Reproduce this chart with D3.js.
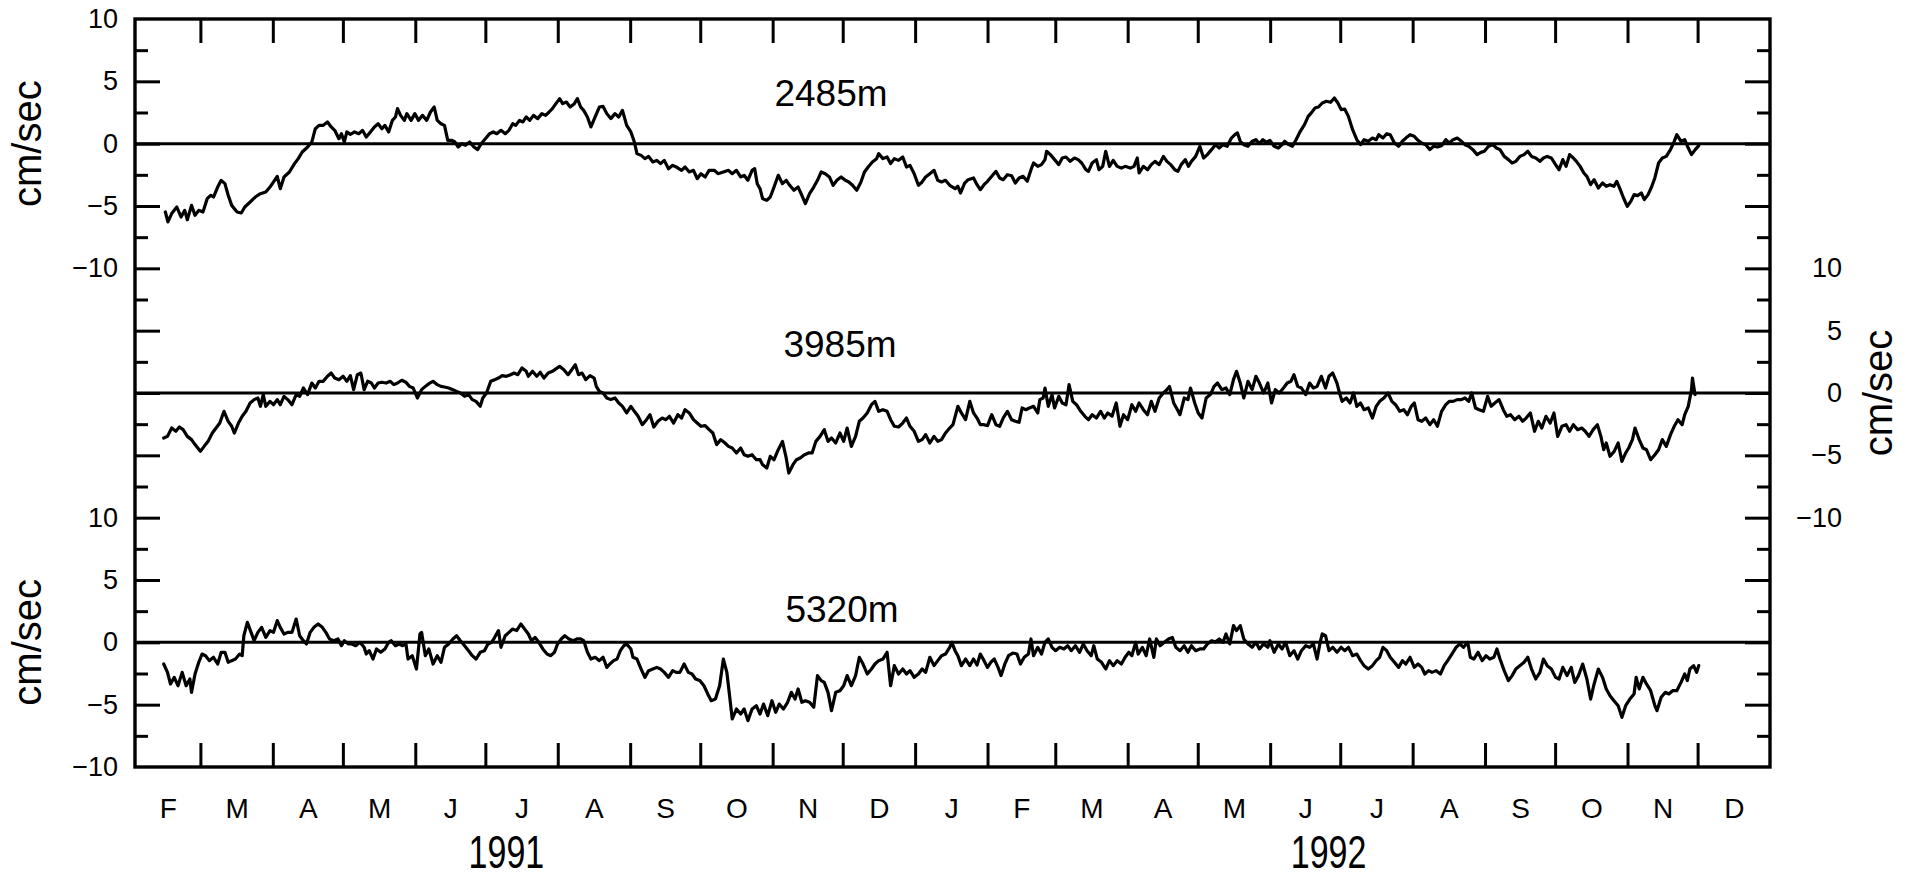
<!DOCTYPE html>
<html><head><meta charset="utf-8">
<script src="https://cdn.jsdelivr.net/npm/d3@7"></script>
<style>
html,body{margin:0;padding:0;background:#fff;}
svg text{font-family:"Liberation Sans",Arial,Helvetica,sans-serif;fill:#000;}
</style></head><body>
<svg id="chart" width="1906" height="877"></svg>
<script>
// ---------- data (day offset from 1 Feb 1991, velocity cm/sec) ----------
const monthLabels = ["F","M","A","M","J","J","A","S","O","N","D","J","F","M","A","M","J","J","A","S","O","N","D"];
const yearLabels = ["1991","1992"];
const yearLabelDates = ["1991-07-10","1992-06-26"];
const yTickValues = [10,5,0,-5,-10];
const yTickLabels = ["10","5","0","\u22125","\u221210"];
const depthLabels = ["2485m","3985m","5320m"];

const s2485 = [[13.0,-5.48],[14.1,-6.28],[15.7,-5.61],[17.9,-5.08],[19.7,-5.88],[21.3,-5.35],[22.4,-6.10],[24.2,-4.95],[25.7,-5.75],[27.3,-5.35],[29.1,-5.48],[30.9,-4.41],[32.5,-4.14],[33.6,-4.28],[35.4,-3.48],[36.9,-2.94],[38.5,-3.21],[39.9,-4.14],[41.4,-4.95],[43.7,-5.48],[45.5,-5.56],[47.0,-5.08],[49.3,-4.68],[51.5,-4.28],[53.7,-4.01],[56.0,-3.88],[57.8,-3.48],[59.3,-3.07],[60.9,-2.62],[62.2,-3.61],[63.8,-2.67],[66.1,-2.27],[68.3,-1.60],[69.9,-1.20],[71.6,-0.67],[73.9,-0.27],[75.7,0.13],[77.2,1.20],[78.8,1.47],[80.6,1.47],[82.4,1.74],[84.0,1.34],[85.5,1.07],[87.3,0.40],[88.4,0.80],[89.6,0.13],[90.7,0.94],[92.2,0.75],[94.0,0.94],[95.8,0.80],[97.4,1.07],[99.0,0.53],[100.8,0.94],[102.5,1.34],[104.1,1.60],[105.7,1.20],[107.0,1.47],[108.6,0.94],[110.2,1.87],[111.5,2.14],[112.4,2.81],[113.7,2.27],[115.3,1.87],[116.4,2.41],[118.2,1.87],[119.8,2.41],[121.4,1.87],[123.1,2.27],[124.9,1.87],[126.5,2.54],[128.1,2.94],[129.4,1.87],[131.0,1.60],[132.5,1.47],[133.9,0.27],[135.5,0.27],[137.0,0.13],[138.4,-0.27],[139.9,0],[141.5,-0.13],[143.3,0.13],[145.1,-0.27],[146.7,-0.48],[148.2,0],[150.0,0.40],[151.8,0.80],[153.4,0.94],[154.9,0.80],[156.7,1.07],[158.5,0.80],[160.1,1.07],[161.7,1.60],[163.0,1.47],[164.6,1.87],[166.1,1.74],[167.5,2.14],[169.0,1.87],[170.6,2.27],[172.4,2.01],[174.2,2.41],[175.8,2.27],[177.3,2.54],[178.7,2.81],[180.2,3.21],[181.8,3.61],[183.1,3.21],[184.7,3.34],[186.3,2.94],[188.1,3.21],[189.4,3.61],[190.8,2.94],[192.1,2.67],[193.7,2.14],[195.2,1.34],[197.0,2.14],[198.8,2.94],[200.4,2.99],[202.0,2.41],[203.7,2.01],[205.5,2.41],[207.1,2.14],[208.7,2.67],[210.5,1.47],[212.3,0.94],[213.8,0.13],[214.9,-0.80],[216.7,-0.94],[218.3,-1.20],[219.9,-1.02],[221.7,-1.47],[223.4,-1.34],[225.0,-1.60],[226.6,-1.34],[228.4,-2.01],[230.2,-1.74],[231.7,-1.87],[234.0,-2.14],[235.5,-1.87],[237.3,-2.27],[239.1,-2.14],[240.7,-2.81],[242.3,-2.41],[244.1,-2.67],[245.8,-2.14],[248.1,-2.14],[249.6,-2.41],[251.9,-2.27],[254.1,-2.14],[255.7,-2.41],[257.5,-2.14],[259.3,-2.67],[260.8,-2.54],[262.4,-2.94],[264.2,-2.14],[265.3,-2.01],[266.4,-3.21],[267.6,-3.61],[268.7,-4.41],[270.5,-4.55],[272.0,-4.28],[273.6,-3.48],[275.4,-2.54],[277.2,-3.21],[278.8,-2.94],[280.3,-3.34],[282.1,-3.74],[283.9,-3.48],[285.5,-4.14],[287.0,-4.81],[288.8,-4.01],[290.6,-3.48],[292.2,-2.94],[293.8,-2.27],[295.5,-2.41],[297.3,-2.67],[298.9,-3.34],[300.5,-2.94],[302.3,-2.67],[304.1,-2.94],[305.6,-3.07],[307.2,-3.34],[309.0,-3.74],[310.8,-3.07],[312.3,-2.27],[313.9,-1.87],[315.7,-1.47],[317.5,-1.20],[318.4,-0.80],[320.2,-1.20],[322.0,-1.07],[323.5,-1.60],[325.1,-1.20],[326.9,-1.34],[328.7,-1.07],[330.3,-1.87],[331.8,-1.74],[333.6,-2.41],[335.4,-3.34],[337.0,-3.07],[338.5,-2.67],[340.3,-2.41],[342.1,-2.14],[343.7,-2.94],[345.3,-3.07],[347.0,-2.94],[348.8,-3.34],[351.1,-3.61],
[352.3,-3.42],[353.4,-3.96],[355.2,-3.16],[356.7,-2.89],[359.0,-2.75],[360.5,-3.29],[361.9,-3.69],[363.5,-3.29],[365.0,-3.02],[366.8,-2.62],[368.6,-2.22],[370.2,-2.75],[371.7,-2.89],[373.5,-2.49],[375.3,-2.57],[376.9,-3.16],[378.5,-2.75],[380.2,-2.62],[382.0,-3.02],[383.6,-2.09],[384.7,-1.55],[386.5,-1.82],[388.1,-1.68],[389.6,-1.28],[390.3,-0.61],[391.9,-0.88],[393.7,-1.28],[395.5,-1.68],[397.0,-1.15],[398.6,-1.07],[400.4,-1.42],[402.2,-1.15],[403.8,-1.28],[405.3,-1.55],[407.1,-2.09],[408.2,-2.22],[409.8,-1.55],[411.6,-1.28],[412.7,-2.09],[414.3,-1.82],[415.6,-0.61],[417.2,-1.82],[418.8,-1.34],[420.5,-1.82],[422.3,-1.96],[423.9,-1.82],[426.1,-1.96],[427.7,-1.82],[429.1,-1.15],[429.9,-2.35],[431.7,-1.82],[433.5,-2.09],[435.1,-1.68],[436.7,-1.42],[438.5,-1.68],[440.3,-1.02],[441.8,-1.42],[443.4,-1.68],[445.2,-2.09],[446.5,-2.22],[447.9,-1.68],[449.7,-1.28],[451.0,-1.82],[452.3,-1.42],[454.1,-1.02],[455.9,-0.21],[457.5,-1.15],[459.1,-0.88],[460.9,-0.48],[462.6,-0.08],[464.2,-0.35],[465.8,-0.08],[467.6,-0.21],[469.4,0.45],[470.9,0.72],[472.0,0.86],[473.2,0.19],[474.7,-0.08],[476.5,-0.21],[478.3,0.19],[479.9,0.32],[481.4,0],[482.8,0.32],[484.4,0.11],[485.9,0.27],[487.7,-0.21],[489.5,-0.35],[491.1,-0.08],[492.2,0.19],[494.0,-0.08],[495.5,-0.21],[497.1,0.32],[498.9,0.99],[500.7,1.52],[502.3,2.19],[503.8,2.51],[505.2,2.86],[506.7,2.94],[508.3,3.26],[510.1,3.40],[511.9,3.32],[513.5,3.66],[515.0,3.26],[516.4,2.73],[517.9,2.78],[519.5,2.19],[521.3,1.12],[523.1,0.32],[524.7,-0.08],[526.2,0.32],[528.0,0.19],[529.8,0.45],[531.4,0.32],[532.5,0.72],[534.3,0.45],[535.9,0.80],[537.4,0.72],[539.2,0.05],[541.0,-0.21],[542.6,0.19],[544.1,0.45],[545.9,0.72],[547.7,0.59],[549.3,0.27],[550.9,0.05],[552.6,-0.08],[554.4,-0.48],[556.0,-0.21],[557.6,-0.27],[559.4,-0.16],[561.2,0.32],[562.7,0.05],[564.3,0.32],[566.1,0.45],[567.9,0.19],[569.4,-0.08],[571.0,-0.21],[572.8,-0.48],[574.6,-0.88],[576.2,-0.70],[577.7,-0.61],[579.5,-0.21],[581.3,-0.08],[582.9,-0.35],[584.4,-0.48],[586.2,-1.02],[588.0,-1.28],[589.6,-1.55],[591.2,-1.42],[592.9,-1.02],[594.7,-0.88],[596.3,-0.61],[597.9,-1.02],[599.7,-1.15],[601.5,-1.42],[603.0,-1.15],[604.6,-1.02],[606.4,-1.15],[608.2,-1.68],[609.7,-2.09],[611.3,-1.28],[612.7,-1.82],[614.2,-0.88],[615.8,-1.15],[617.1,-1.42],[618.7,-1.82],[620.3,-2.35],[621.6,-2.62],[623.2,-3.29],[624.7,-2.89],[626.5,-3.56],[628.3,-3.16],[629.9,-3.42],[631.5,-3.29],[633.2,-3.42],[634.4,-3.02],[635.9,-3.69],[637.3,-4.36],[638.9,-5.03],[640.4,-4.63],[641.8,-4.09],[643.3,-4.17],[644.9,-3.96],[646.2,-4.49],[647.8,-4.09],[649.4,-3.42],[650.7,-2.75],[652.3,-1.55],[653.9,-1.15],[655.6,-1.02],[657.4,-0.48],[659.0,0.19],[660.1,0.72],[661.9,0.19],[663.5,0.32],[665.0,-0.35],[666.4,-0.88],[668.0,-0.48],[669.5,-0.16]];

const s3985 = [[12.3,-3.61],[13.9,-3.48],[15.7,-2.81],[17.5,-3.07],[19.0,-2.73],[20.6,-2.94],[22.4,-3.48],[24.2,-3.74],[25.7,-4.14],[28.0,-4.68],[29.6,-4.28],[31.3,-3.88],[33.1,-3.21],[34.7,-2.81],[36.3,-2.41],[38.1,-1.47],[39.9,-2.27],[41.4,-2.67],[42.5,-3.21],[44.3,-2.41],[45.9,-1.87],[47.5,-1.47],[49.3,-0.80],[51.0,-0.53],[52.6,-0.40],[53.7,-1.07],[54.9,-0.13],[56.0,-1.07],[57.8,-0.67],[59.3,-0.94],[60.9,-0.53],[62.2,-0.94],[63.8,-0.27],[65.4,-0.53],[67.2,-0.94],[69.0,-0.13],[70.5,-0.27],[72.1,0.40],[73.9,-0.13],[75.7,0.80],[77.2,0.40],[78.8,0.94],[80.6,0.94],[82.4,1.34],[84.0,1.60],[85.5,1.20],[87.3,1.07],[89.1,1.34],[90.7,0.94],[92.2,1.39],[93.6,0.27],[95.2,1.47],[96.7,1.60],[98.1,0.27],[99.6,0.94],[101.2,0.80],[102.5,0.40],[104.1,0.80],[105.7,0.86],[107.5,0.80],[109.3,0.94],[110.8,0.67],[112.4,0.80],[114.2,1.02],[116.0,0.86],[117.5,0.53],[119.1,0.40],[120.9,-0.40],[122.7,0.27],[124.3,0.53],[125.8,0.75],[127.6,0.94],[129.4,0.67],[131.0,0.53],[132.5,0.48],[134.3,0.40],[136.1,0.27],[137.7,0.13],[139.3,0],[141.1,-0.27],[142.8,-0.13],[144.4,-0.53],[146.0,-0.67],[147.8,-1.07],[148.9,-0.40],[150.5,0],[152.3,0.94],[154.0,1.07],[155.6,1.20],[157.2,1.39],[159.0,1.34],[160.8,1.47],[162.3,1.60],[163.9,1.47],[165.7,2.01],[167.5,1.74],[168.4,1.34],[170.2,1.74],[172.0,1.34],[173.5,1.66],[175.1,1.20],[176.9,1.60],[178.7,1.74],[180.2,1.93],[181.8,2.14],[183.6,1.87],[185.4,1.47],[187.0,1.87],[188.5,2.27],[189.9,1.47],[191.4,1.60],[193.0,1.07],[194.8,1.39],[196.6,1.20],[197.5,0.53],[198.8,0.13],[200.4,0],[202.0,-0.40],[203.7,-0.53],[205.5,-0.40],[207.1,-0.80],[208.7,-1.07],[210.5,-1.60],[212.3,-1.07],[213.8,-1.47],[215.4,-1.87],[217.2,-2.54],[219.0,-2.14],[220.5,-1.74],[222.1,-2.73],[223.9,-2.27],[225.7,-2.01],[227.3,-2.14],[228.8,-1.87],[230.6,-2.41],[232.4,-1.74],[234.0,-2.01],[235.5,-1.34],[237.3,-1.60],[239.1,-2.14],[240.7,-2.41],[242.3,-2.67],[244.1,-2.62],[245.8,-2.94],[247.4,-3.21],[249.0,-4.14],[250.8,-3.74],[252.6,-4.01],[254.1,-4.28],[255.7,-4.41],[257.5,-4.81],[259.3,-4.41],[260.8,-4.95],[262.4,-5.08],[264.2,-4.95],[266.0,-5.35],[267.6,-5.35],[268.7,-5.75],[270.5,-6.02],[272.0,-5.08],[273.6,-5.35],[275.4,-4.55],[277.2,-3.88],[278.8,-5.21],[279.9,-6.42],[281.7,-5.75],[283.2,-5.35],[284.8,-5.21],[286.6,-4.95],[288.4,-4.81],[289.9,-4.81],[291.5,-3.88],[293.3,-3.48],[295.1,-2.94],[296.7,-3.88],[298.2,-3.61],[300.0,-4.01],[301.8,-3.21],[303.4,-3.88],[304.9,-2.81],[306.7,-4.28],[308.5,-3.48],[310.1,-2.27],[311.7,-2.01],[313.5,-1.60],[315.3,-0.94],[316.8,-0.67],[318.4,-1.47],[320.2,-1.34],[322.0,-1.47],[323.5,-2.14],[325.1,-2.67],[326.9,-2.73],[328.7,-2.41],[330.3,-2.01],[331.8,-2.67],[333.6,-3.07],[335.4,-3.88],[337.0,-3.74],[338.5,-3.34],[340.3,-4.01],[342.1,-3.48],[343.7,-3.88],[345.3,-3.74],[347.0,-3.21],[348.8,-2.81],[350.2,-2.54],
[352.3,-1.07],[353.8,-1.60],[355.6,-2.14],[357.4,-0.67],[359.0,-1.60],[360.5,-2.01],[361.9,-2.54],[363.5,-2.54],[365.0,-2.62],[366.8,-1.74],[368.6,-2.54],[370.2,-2.67],[371.7,-2.01],[373.5,-1.47],[375.3,-2.14],[376.9,-2.27],[378.5,-2.35],[379.8,-1.20],[381.4,-1.34],[382.9,-1.20],[384.7,-1.07],[386.5,-1.60],[387.4,-0.53],[388.8,-0.40],[389.6,0.40],[391.0,-1.07],[392.6,-0.13],[393.7,-1.20],[395.5,-0.27],[397.0,-0.80],[398.6,-0.94],[399.9,0.67],[401.5,-0.67],[403.1,-0.94],[404.9,-1.47],[406.7,-1.87],[408.2,-2.14],[409.8,-1.74],[411.6,-2.01],[413.4,-1.47],[415.0,-2.01],[416.5,-1.60],[418.3,-1.87],[420.1,-0.80],[421.7,-2.67],[423.2,-1.74],[425.0,-2.14],[426.8,-0.94],[428.4,-1.47],[429.9,-0.80],[431.7,-1.34],[433.5,-1.74],[435.1,-0.67],[436.7,-1.47],[438.5,-0.40],[440.3,0],[441.8,0.27],[442.9,0.53],[444.7,-0.80],[446.3,-1.34],[447.4,-1.74],[449.2,-0.40],[450.8,-0.53],[451.9,0.40],[453.7,-0.80],[455.2,-1.60],[456.8,-2.01],[458.6,-0.40],[460.4,-0.13],[462.0,0.53],[463.5,0.80],[465.3,0.27],[467.1,0.40],[468.7,-0.13],[470.3,1.07],[471.6,1.74],[473.2,0.80],[474.7,-0.40],[476.5,0.94],[478.3,0.27],[479.9,1.34],[481.4,0.80],[483.2,0],[485.0,0.80],[486.6,-0.80],[488.2,0.27],[489.9,0],[491.7,0.40],[493.3,0.80],[494.9,0.94],[496.2,1.47],[497.8,0.53],[499.4,0.40],[501.2,-0.13],[502.9,0.80],[504.5,0.40],[506.1,0.53],[507.9,1.34],[509.7,0.40],[511.2,1.34],[512.8,1.60],[514.6,0.80],[515.7,0],[516.8,-0.67],[518.6,-0.40],[520.2,-0.80],[521.7,0],[523.1,-1.07],[524.7,-0.80],[526.2,-1.34],[528.0,-1.20],[529.8,-2.01],[531.4,-1.07],[532.9,-0.67],[534.7,-0.40],[536.5,0],[538.1,-0.67],[539.7,-0.94],[541.5,-1.47],[543.2,-1.34],[544.8,-1.74],[546.4,-1.07],[547.7,-0.80],[549.3,-2.14],[550.9,-2.27],[552.6,-2.01],[554.4,-2.54],[556.0,-2.14],[557.6,-2.67],[559.4,-1.47],[561.2,-0.94],[562.7,-0.67],[564.3,-0.67],[566.1,-0.53],[567.9,-0.53],[569.4,-0.40],[571.0,-0.67],[572.3,0],[573.9,-1.20],[575.5,-1.34],[577.3,-1.47],[579.1,-0.27],[580.6,-1.07],[582.2,-0.80],[584.0,-0.53],[585.8,-1.34],[587.3,-1.87],[588.9,-1.74],[590.7,-2.14],[592.5,-1.87],[594.1,-2.27],[595.6,-2.01],[597.4,-1.60],[599.2,-3.07],[600.8,-2.27],[602.3,-2.81],[604.1,-1.87],[605.9,-2.41],[607.5,-1.60],[609.1,-3.48],[610.9,-2.67],[612.7,-2.54],[614.2,-3.07],[615.8,-2.54],[617.6,-2.94],[619.4,-2.81],[620.9,-3.07],[622.5,-3.48],[624.3,-2.94],[626.1,-2.54],[627.6,-3.48],[628.8,-4.55],[629.9,-4.01],[631.5,-5.08],[633.3,-4.68],[635.0,-4.01],[636.6,-5.48],[638.2,-4.81],[639.5,-4.41],[641.1,-3.74],[642.2,-2.81],[644.0,-3.74],[645.6,-4.41],[647.1,-4.55],[648.9,-5.35],[650.7,-4.95],[652.3,-4.55],[653.9,-3.74],[655.6,-4.28],[657.4,-3.34],[659.0,-2.67],[660.6,-2.14],[662.4,-2.54],[663.5,-1.74],[665.0,-1.07],[666.4,0.27],[666.8,1.20],[667.9,-0.13]];

const s5320 = [[12.3,-1.74],[13.9,-2.41],[15.2,-3.34],[16.8,-2.81],[18.4,-3.48],[20.2,-2.41],[21.9,-3.48],[23.5,-2.94],[24.2,-4.01],[25.7,-2.54],[27.3,-1.60],[28.7,-0.94],[30.2,-1.07],[31.8,-1.47],[33.6,-1.20],[35.4,-1.74],[36.9,-0.80],[38.5,-0.80],[39.9,-1.60],[41.4,-1.47],[43.0,-1.34],[44.8,-0.94],[45.9,-1.07],[46.6,0.53],[48.1,1.60],[49.7,0.80],[51.0,0.13],[52.6,0.80],[54.2,1.20],[56.0,0.40],[57.8,0.94],[59.3,0.80],[60.9,1.74],[62.2,1.20],[63.8,0.67],[65.4,0.80],[67.2,0.80],[69.0,1.87],[70.5,0.53],[72.1,0.13],[73.4,-0.13],[75.0,0.80],[76.6,1.20],[78.4,1.47],[80.2,1.20],[81.7,0.80],[83.3,0.27],[85.1,0.13],[86.9,0.27],[88.4,-0.27],[89.6,0.13],[91.4,-0.13],[92.9,-0.13],[94.5,-0.27],[96.3,0],[98.1,-0.40],[99.0,-0.94],[100.3,-0.67],[101.9,-1.34],[103.4,-0.53],[105.2,-0.80],[107.0,-0.53],[108.6,0],[109.7,0.13],[111.5,-0.27],[113.1,-0.13],[114.6,-0.27],[116.0,-0.13],[116.9,-1.34],[118.7,-1.07],[120.5,-2.14],[122.0,0.67],[122.7,0.80],[124.3,-1.07],[125.8,-0.53],[127.6,-1.74],[129.4,-1.07],[131.0,-1.60],[132.5,-0.40],[134.3,-0.13],[136.1,0.27],[137.7,0.53],[139.3,0.13],[141.1,-0.27],[142.8,-0.67],[144.4,-1.07],[146.0,-1.34],[147.8,-0.80],[149.6,-0.67],[151.1,-0.13],[152.7,0],[154.0,0.40],[155.6,0.94],[156.7,-0.40],[158.5,0.53],[160.1,0.80],[161.7,1.07],[163.4,0.94],[165.2,1.47],[166.8,1.07],[168.4,0.67],[169.7,0.13],[171.3,0.40],[172.9,0],[174.6,-0.53],[176.4,-0.94],[178.0,-1.07],[179.6,-0.80],[180.9,-0.13],[182.5,0.27],[184.0,0.53],[185.8,0.27],[187.6,0.13],[189.2,0.27],[190.8,0.27],[192.1,0.13],[193.7,-0.80],[195.2,-1.34],[197.0,-1.20],[198.8,-1.47],[200.4,-1.20],[202.0,-2.01],[203.3,-1.74],[204.9,-1.47],[206.4,-1.34],[207.8,-0.67],[209.3,-0.27],[210.5,-0.13],[212.3,-0.53],[213.2,-1.20],[214.9,-1.34],[216.7,-2.14],[218.3,-2.81],[219.9,-2.27],[221.7,-2.14],[223.4,-2.01],[225.0,-2.14],[226.6,-2.41],[228.4,-2.81],[230.2,-2.27],[231.7,-2.41],[233.3,-2.41],[235.1,-1.74],[236.9,-2.41],[238.5,-2.54],[240.0,-2.94],[241.8,-3.07],[243.6,-3.48],[245.2,-4.14],[246.7,-4.68],[248.5,-4.55],[250.3,-3.48],[251.9,-1.34],[253.4,-2.41],[254.8,-4.68],[255.7,-6.15],[257.5,-5.35],[259.3,-5.75],[260.8,-5.35],[262.4,-6.28],[264.2,-5.35],[266.0,-5.08],[267.6,-5.75],[269.1,-4.95],[270.9,-5.88],[272.7,-4.68],[274.3,-5.61],[275.8,-4.95],[277.6,-5.35],[279.4,-4.81],[281.0,-4.01],[282.6,-4.55],[283.9,-3.74],[285.5,-4.81],[287.0,-4.68],[288.8,-4.81],[290.6,-5.21],[292.2,-2.67],[293.8,-3.07],[295.1,-3.21],[296.7,-4.01],[298.2,-5.48],[300.0,-4.01],[301.8,-3.88],[303.4,-3.48],[304.9,-2.67],[306.7,-3.48],[308.5,-2.67],[310.1,-1.20],[311.7,-1.74],[313.5,-2.54],[315.3,-2.14],[316.8,-1.74],[318.4,-1.47],[320.2,-1.34],[322.0,-0.80],[323.5,-3.48],[325.1,-1.87],[326.9,-2.54],[328.7,-2.14],[330.3,-2.54],[331.8,-2.27],[333.6,-2.81],[335.4,-2.54],[337.0,-2.14],[338.5,-2.41],[340.3,-1.20],[342.1,-1.87],[343.7,-1.47],[345.3,-1.07],[347.0,-0.94],[348.8,-0.40],[349.7,0],[351.1,-0.67],
[352.3,-1.07],[353.8,-1.87],[355.6,-1.34],[357.4,-1.87],[359.0,-1.34],[360.5,-1.82],[361.9,-0.94],[363.5,-1.47],[365.0,-2.01],[366.4,-1.60],[367.9,-1.34],[369.5,-2.01],[370.8,-2.67],[372.4,-1.74],[374.0,-1.07],[375.8,-0.86],[377.6,-0.94],[379.1,-1.74],[380.7,-1.20],[382.5,-0.94],[383.6,0.27],[384.7,-1.07],[386.5,-0.40],[388.1,-0.94],[389.6,0],[391.0,0.27],[392.6,-0.40],[394.1,-0.67],[395.9,-0.40],[397.7,-0.53],[399.3,-0.27],[400.8,-0.67],[402.6,-0.27],[404.4,-0.80],[406.0,-0.13],[407.6,-0.67],[409.4,-1.07],[410.5,-0.27],[412.0,-1.34],[413.8,-1.60],[415.6,-2.14],[417.2,-1.47],[418.8,-1.87],[420.5,-1.47],[422.3,-1.74],[423.9,-1.20],[425.5,-0.80],[426.8,-1.07],[428.4,0],[429.5,-0.94],[431.3,-0.40],[432.9,-1.07],[434.4,0.27],[436.2,-1.20],[437.3,0.27],[438.9,-0.27],[440.7,0],[442.5,0.27],[444.1,0.40],[445.6,-0.40],[447.4,-0.67],[449.2,-0.27],[450.8,-0.80],[452.3,-0.27],[454.1,-0.67],[455.9,-0.53],[457.5,-0.53],[459.1,-0.13],[460.9,0.13],[462.6,0.05],[464.2,0.27],[465.8,0],[467.1,0.67],[468.7,-0.13],[470.3,1.34],[471.6,0.94],[473.2,1.34],[474.7,0.27],[476.5,-0.13],[478.3,-0.40],[479.9,0],[481.4,-0.53],[483.2,-0.13],[485.0,-0.40],[485.9,0.13],[487.7,-0.80],[489.5,-0.13],[491.1,-0.53],[492.6,0],[494.4,-1.07],[496.2,-0.67],[497.8,-1.34],[499.4,-0.67],[501.2,-0.27],[502.9,-0.40],[504.5,-0.13],[506.1,-1.34],[507.4,0],[508.3,0.67],[509.7,0.53],[511.2,-0.67],[512.8,-0.40],[514.6,-0.80],[516.4,-0.40],[517.9,-0.67],[519.5,-0.40],[521.3,-1.07],[523.1,-0.94],[524.7,-1.47],[526.2,-1.87],[528.0,-2.14],[529.8,-1.87],[531.4,-1.47],[532.9,-1.20],[534.3,-0.40],[535.9,-0.67],[537.4,-1.20],[539.2,-1.60],[541.0,-2.01],[542.6,-1.47],[544.1,-1.74],[545.9,-1.20],[547.7,-2.01],[549.3,-1.74],[550.9,-2.01],[552.2,-2.54],[553.8,-2.27],[555.3,-2.41],[557.1,-2.27],[558.9,-2.54],[560.5,-1.87],[562.0,-1.47],[563.8,-0.94],[565.6,-0.40],[567.2,-0.13],[568.8,-0.40],[570.6,0],[571.7,-1.20],[573.2,-1.34],[575.0,-0.80],[576.8,-1.47],[578.4,-1.07],[580.0,-1.34],[581.8,-1.20],[583.1,-0.53],[584.4,-1.34],[586.2,-2.27],[588.0,-3.07],[589.6,-2.67],[591.2,-2.14],[592.9,-1.87],[594.7,-1.60],[596.3,-1.20],[597.9,-2.14],[599.7,-2.94],[601.5,-2.41],[603.0,-1.34],[604.6,-1.87],[606.4,-2.14],[608.2,-2.81],[609.7,-2.94],[611.3,-2.01],[613.1,-2.67],[614.9,-2.01],[616.4,-3.21],[618.0,-2.67],[619.8,-1.74],[621.6,-2.94],[623.2,-4.55],[624.7,-3.34],[626.5,-2.14],[628.3,-2.81],[629.9,-3.74],[631.5,-4.28],[633.2,-4.68],[635.0,-5.08],[636.6,-6.02],[638.2,-5.08],[640.0,-4.55],[641.8,-4.14],[642.7,-2.81],[644.0,-3.74],[645.6,-2.81],[647.1,-3.34],[648.9,-3.88],[650.7,-5.08],[651.6,-5.48],[653.4,-4.41],[655.2,-4.01],[656.7,-4.14],[658.3,-3.88],[660.1,-3.88],[661.9,-3.21],[663.5,-2.54],[664.6,-3.07],[665.7,-2.14],[667.3,-1.87],[668.6,-2.41],[669.5,-1.87]];

const seriesList = [s2485, s3985, s5320];
const panelOffsets = [20, 0, -20];   // stacking offset (cm/sec) of each panel on the shared axis

// ---------- layout ----------
const L = 135, R = 1770, T = 19, B = 767;
const svg = d3.select("#chart");
const start = new Date(1991, 1, 1), end = new Date(1993, 0, 1);
const x = d3.scaleTime().domain([start, end]).range([L, R]);
const y = d3.scaleLinear().domain([-30, 30]).range([B, T]);
const dayToDate = d => new Date(start.getTime() + d * 864e5);

const STROKE = "#000";
const FONT = '"Liberation Sans",Arial,Helvetica,sans-serif';

// data lines
seriesList.forEach((s, i) => {
  const off = panelOffsets[i];
  const line = d3.line().x(d => x(dayToDate(d[0]))).y(d => y(d[1] + off));
  svg.append("path").datum(s).attr("d", line)
    .attr("fill", "none").attr("stroke", STROKE).attr("stroke-width", 3.2)
    .attr("stroke-linejoin", "round").attr("stroke-linecap", "round");
});

// zero lines
svg.append("g").selectAll("line").data(panelOffsets).join("line")
  .attr("x1", L).attr("x2", R).attr("y1", d => y(d)).attr("y2", d => y(d))
  .attr("stroke", STROKE).attr("stroke-width", 3);

// frame
svg.append("rect").attr("x", L).attr("y", T).attr("width", R - L).attr("height", B - T)
  .attr("fill", "none").attr("stroke", STROKE).attr("stroke-width", 3.4);

// y ticks (long on multiples of 5, short in between)
const majorY = d3.range(-25, 26, 5);
const minorY = d3.range(-27.5, 28, 5);
function styleAxis(g) {
  g.select(".domain").remove();
  g.selectAll(".tick line").attr("stroke", STROKE).attr("stroke-width", 3);
  g.selectAll("text").attr("font-size", 27).attr("fill", "#000").attr("font-family", FONT);
}
svg.append("g").attr("transform", `translate(${L},0)`)
  .call(d3.axisLeft(y).tickValues(majorY).tickSize(-25).tickFormat("")).call(styleAxis);
svg.append("g").attr("transform", `translate(${L},0)`)
  .call(d3.axisLeft(y).tickValues(minorY).tickSize(-13).tickFormat("")).call(styleAxis);
svg.append("g").attr("transform", `translate(${R},0)`)
  .call(d3.axisRight(y).tickValues(majorY).tickSize(-25).tickFormat("")).call(styleAxis);
svg.append("g").attr("transform", `translate(${R},0)`)
  .call(d3.axisRight(y).tickValues(minorY).tickSize(-13).tickFormat("")).call(styleAxis);

// y tick labels: top & bottom panels on left, middle panel on right
const fmtLabel = v => yTickLabels[yTickValues.indexOf(v)];
[0, 2].forEach(i => {
  const off = panelOffsets[i];
  const sc = y.copy().domain(y.domain().map(v => v - off));
  svg.append("g").attr("transform", `translate(${L},0)`)
    .call(d3.axisLeft(sc).tickValues(yTickValues).tickSize(0).tickPadding(17).tickFormat(fmtLabel))
    .call(styleAxis);
});
{
  const off = panelOffsets[1];
  const sc = y.copy().domain(y.domain().map(v => v - off));
  const g = svg.append("g").attr("transform", `translate(${R},0)`)
    .call(d3.axisRight(sc).tickValues(yTickValues).tickSize(0).tickFormat(fmtLabel))
    .call(styleAxis);
  g.selectAll("text").attr("text-anchor", "end").attr("x", 72);
}

// y axis titles
const titlePos = [[41, y(panelOffsets[0])], [1892, y(panelOffsets[1])], [41, y(panelOffsets[2])]];
titlePos.forEach(p => {
  svg.append("text").attr("transform", `translate(${p[0]},${p[1]}) rotate(-90)`)
    .attr("text-anchor", "middle").attr("font-size", 40).text("cm/sec");
});

// month ticks (top and bottom, pointing inward)
const monthStarts = d3.timeMonth.range(d3.timeMonth.offset(start, 1), end);
function styleX(g) {
  g.select(".domain").remove();
  g.selectAll(".tick line").attr("stroke", STROKE).attr("stroke-width", 3);
  g.selectAll("text").attr("font-size", 28).attr("fill", "#000").attr("font-family", FONT);
}
svg.append("g").attr("transform", `translate(0,${B})`)
  .call(d3.axisBottom(x).tickValues(monthStarts).tickSize(-24).tickFormat("")).call(styleX);
svg.append("g").attr("transform", `translate(0,${T})`)
  .call(d3.axisTop(x).tickValues(monthStarts).tickSize(-24).tickFormat("")).call(styleX);

// month letters centred in each month
const allMonths = d3.timeMonth.range(start, end);
const monthMids = allMonths.map(m => new Date((m.getTime() + d3.timeMonth.offset(m, 1).getTime()) / 2));
svg.append("g").attr("transform", `translate(0,${B})`)
  .call(d3.axisBottom(x).tickValues(monthMids).tickSize(0).tickPadding(31)
    .tickFormat((d, i) => monthLabels[i])).call(styleX);

// year labels
const parseDate = d3.timeParse("%Y-%m-%d");
yearLabels.forEach((t, i) => {
  svg.append("text").attr("transform", `translate(${x(parseDate(yearLabelDates[i]))},868) scale(1,1.35)`)
    .attr("text-anchor", "middle").attr("font-size", 34).text(t);
});

// depth labels
const depthPos = [[831, 106], [840, 357], [842, 622]];
depthLabels.forEach((t, i) => {
  svg.append("text").attr("x", depthPos[i][0]).attr("y", depthPos[i][1])
    .attr("text-anchor", "middle").attr("font-size", 37).text(t);
});
</script>
</body></html>
